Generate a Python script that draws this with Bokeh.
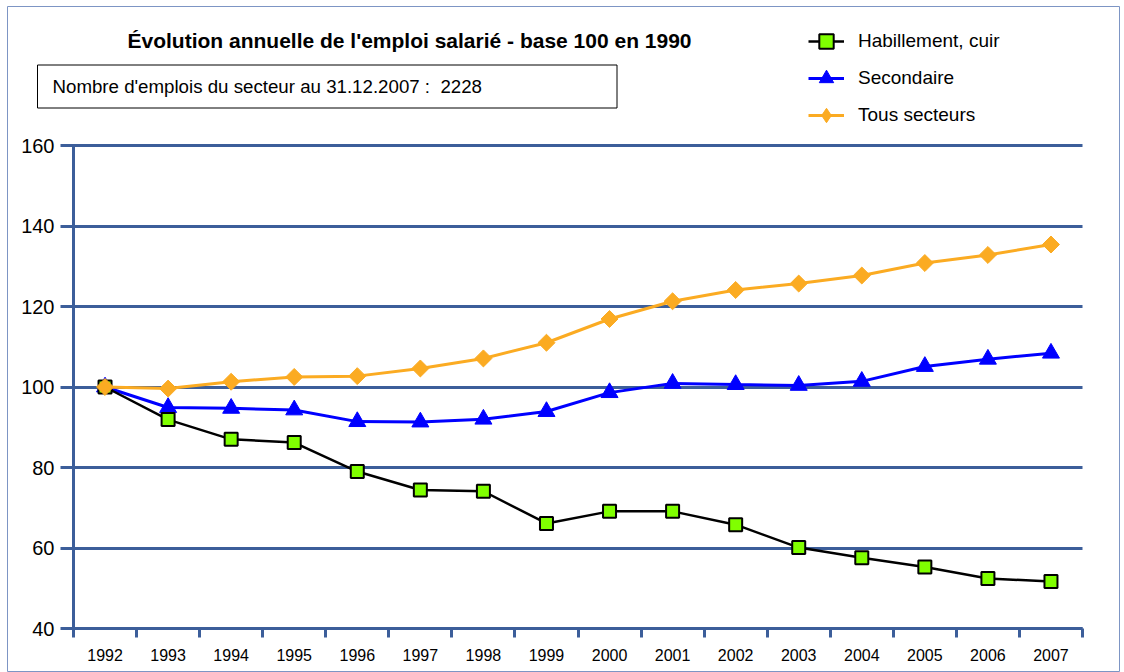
import math
from bokeh.plotting import figure
from bokeh.models import Range1d, FixedTicker, Label, Legend, LegendItem
from bokeh.embed import file_html
from bokeh.resources import INLINE

years = [1992, 1993, 1994, 1995, 1996, 1997, 1998, 1999, 2000, 2001, 2002, 2003, 2004, 2005, 2006, 2007]
habillement = [100, 91.9, 87.0, 86.2, 79.0, 74.4, 74.1, 66.1, 69.1, 69.1, 65.8, 60.1, 57.6, 55.3, 52.4, 51.7]
secondaire = [100, 94.9, 94.7, 94.3, 91.4, 91.3, 92.0, 93.9, 98.6, 100.9, 100.6, 100.4, 101.4, 105.1, 106.9, 108.4]
tous = [100, 99.6, 101.3, 102.5, 102.7, 104.6, 107.1, 111.0, 116.9, 121.3, 124.1, 125.7, 127.7, 130.8, 132.8, 135.4]
y_ticks = [40, 60, 80, 100, 120, 140, 160]
title_text = "Évolution annuelle de l'emploi salarié - base 100 en 1990"
box_text = "Nombre d'emplois du secteur au 31.12.2007 :\u00a0 2228"
names = ["Habillement, cuir", "Secondaire", "Tous secteurs"]

FONT = "Liberation Sans"
AXC = "#3c5e9a"
ORANGE = "#fbab22"

# layout in canvas pixels
W, H = 1124, 672
FL, FT, FR, FB = 7, 6, 1119, 672          # frame (outer border) edges
PL, PR, PT, PB = 73, 1082, 145, 628       # plot area edges
x0, x1 = years[0] - 0.5, years[-1] + 0.5
y0, y1 = y_ticks[0], y_ticks[-1]
sx = (PR - PL) / (x1 - x0)
sy = (PB - PT) / (y1 - y0)
xr = Range1d(x0 - (PL - FL) / sx, x1 + (FR - PR) / sx)
yr = Range1d(y0 - (FB - PB) / sy, y1 + (PT - FT) / sy)

p = figure(width=W, height=H, output_backend="svg", toolbar_location=None,
           x_range=xr, y_range=yr, min_border=0,
           min_border_left=FL, min_border_top=FT, min_border_right=W - FR, min_border_bottom=H - FB)
p.title.visible = False
p.outline_line_color = "#7d95c4"
p.outline_line_width = 1
p.xgrid.grid_line_color = None
p.ygrid.grid_line_color = None

xa = p.xaxis[0]
xa.fixed_location = y0
xa.bounds = (x0, x1)
xa.ticker = FixedTicker(ticks=years, minor_ticks=[y - 0.5 for y in years] + [x1])
xa.major_tick_out = 0
xa.major_tick_in = 0
xa.minor_tick_out = 9
xa.minor_tick_in = 0
xa.minor_tick_line_color = AXC
xa.minor_tick_line_width = 3
xa.axis_line_color = AXC
xa.axis_line_width = 3
xa.major_label_text_font = FONT
xa.major_label_text_font_size = "16px"
xa.major_label_text_color = "#000000"
xa.major_label_standoff = 11
xa.level = "underlay"

ya = p.yaxis[0]
ya.fixed_location = x0
ya.bounds = (y0, y1)
ya.ticker = FixedTicker(ticks=y_ticks)
ya.major_tick_out = 13
ya.major_tick_in = PR - PL
ya.major_tick_line_color = AXC
ya.major_tick_line_width = 3
ya.minor_tick_line_color = None
ya.axis_line_color = AXC
ya.axis_line_width = 3
ya.major_label_text_font = FONT
ya.major_label_text_font_size = "20px"
ya.major_label_text_color = "#000000"
ya.major_label_standoff = 6
ya.level = "underlay"

l2 = p.line(years, secondaire, line_color="#0000ff", line_width=3)
m2 = p.scatter(years, secondaire, marker="triangle", size=17, fill_color="#0000ff", line_color="#0000ff")
l1 = p.line(years, habillement, line_color="#000000", line_width=2.5)
m1 = p.scatter(years, habillement, marker="square", size=13, fill_color="#80ff00", line_color="#000000", line_width=2)
l3 = p.line(years, tous, line_color=ORANGE, line_width=3)
# diamond key for the legend (legend glyphs are drawn unrotated); covered by the rotated squares below
m3_key = p.scatter(years, tous, marker="diamond", size=14, fill_color=ORANGE, line_color=ORANGE)
m3 = p.scatter(years, tous, marker="square", angle=math.pi / 4, size=12, fill_color=ORANGE, line_color=ORANGE)

legend = Legend(items=[LegendItem(label=names[0], renderers=[l1, m1]),
                       LegendItem(label=names[1], renderers=[l2, m2]),
                       LegendItem(label=names[2], renderers=[l3, m3_key])],
                location=(808 - FL, FB - 133), orientation="vertical",
                glyph_width=36, glyph_height=36, label_height=36, label_standoff=14,
                spacing=1, padding=0, margin=0,
                border_line_color=None, background_fill_alpha=0,
                label_text_font=FONT, label_text_font_size="19px", label_text_color="#000000")
p.add_layout(legend, "center")

p.add_layout(Label(x=409 - FL, y=FB - 40, x_units="screen", y_units="screen", text=title_text,
                   text_align="center", text_baseline="middle", text_font=FONT,
                   text_font_style="bold", text_font_size="21px", text_color="#000000"))
p.add_layout(Label(x=37 - FL, y=FB - 86, x_units="screen", y_units="screen", text=box_text,
                   text_align="left", text_baseline="middle", text_font=FONT,
                   text_font_size="18.7px", text_color="#000000",
                   border_line_color="#000000", border_line_width=1,
                   background_fill_color="#ffffff",
                   padding=dict(left=15, right=135, top=11, bottom=11)))

open("out.html", "w").write(file_html(p, INLINE))
